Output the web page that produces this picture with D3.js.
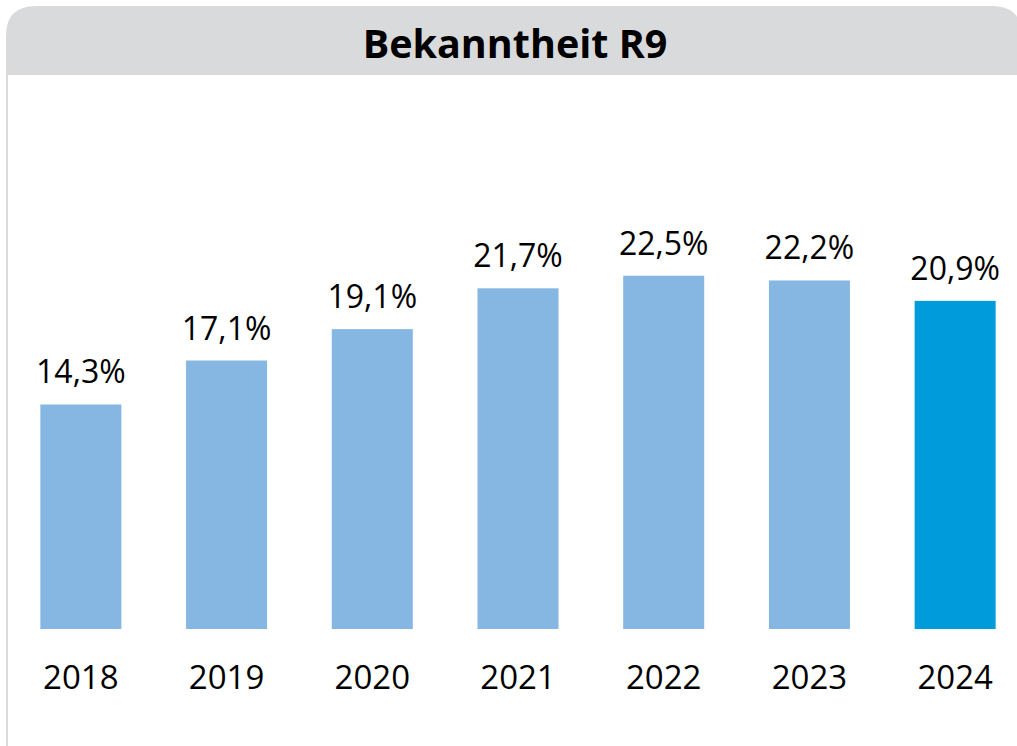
<!DOCTYPE html>
<html>
<head>
<meta charset="utf-8">
<script src="https://cdn.jsdelivr.net/npm/d3@7"></script>
<style>
  html, body { margin: 0; padding: 0; background: #fff; }
  svg { display: block; }
</style>
</head>
<body>
<div id="viz"></div>
<script>
// chart data
var title = 'Bekanntheit R9';
var years = ['2018', '2019', '2020', '2021', '2022', '2023', '2024'];
var values = [14.3, 17.1, 19.1, 21.7, 22.5, 22.2, 20.9];
var highlight = '2024';

var width = 1017, height = 746;

var svg = d3.select('#viz')
  .append('svg')
  .attr('width', width)
  .attr('height', height);

// frame: grey header with rounded top corners, thin line on the left
var r = 30;
svg.append('path')
  .attr('d', 'M6,75 L6,' + (6 + r) + ' Q6,6 ' + (6 + r) + ',6 L' + (1022 - r) + ',6 Q1022,6 1022,' + (6 + r) + ' L1022,75 Z')
  .attr('fill', '#d9dadb');

svg.append('rect')
  .attr('x', 6).attr('y', 75)
  .attr('width', 2).attr('height', height - 75)
  .attr('fill', '#dcdcdc');

svg.append('text')
  .attr('x', 515)
  .attr('y', 58)
  .attr('text-anchor', 'middle')
  .style('font-family', '"Open Sans", sans-serif')
  .style('font-weight', 700)
  .style('font-size', '39.5px')
  .attr('fill', '#000')
  .text(title);

// scales
var x = d3.scaleBand()
  .domain(years)
  .range([8, 1028])
  .paddingInner(0.444)
  .paddingOuter(0.222);

var y = d3.scaleLinear()
  .domain([0, 25])
  .range([629, 236.5]);

svg.selectAll('.bar')
  .data(years)
  .enter()
  .append('rect')
  .attr('class', 'bar')
  .attr('x', function(d) { return x(d); })
  .attr('y', function(d, i) { return y(values[i]); })
  .attr('width', x.bandwidth())
  .attr('height', function(d, i) { return y(0) - y(values[i]); })
  .attr('fill', function(d) { return d == highlight ? '#009bda' : '#85b7e2'; });

// value labels above the bars
svg.selectAll('.val')
  .data(years)
  .enter()
  .append('text')
  .attr('class', 'val')
  .attr('x', function(d) { return x(d) + x.bandwidth() / 2; })
  .attr('y', function(d, i) { return y(values[i]) - 21; })
  .attr('text-anchor', 'middle')
  .style('font-family', '"Open Sans", sans-serif')
  .style('font-size', '32px')
  .attr('fill', '#000')
  .text(function(d, i) { return d3.format('.1f')(values[i]).replace('.', ',') + '%'; });

// category axis, no line or ticks
var axis = svg.append('g')
  .attr('transform', 'translate(0,629)')
  .call(d3.axisBottom(x).tickSize(0).tickPadding(0));

axis.select('.domain').remove();
axis.selectAll('text')
  .attr('dy', null)
  .attr('y', 60)
  .style('font-family', '"Open Sans", sans-serif')
  .style('font-size', '33px')
  .attr('fill', '#000');
</script>
</body>
</html>
